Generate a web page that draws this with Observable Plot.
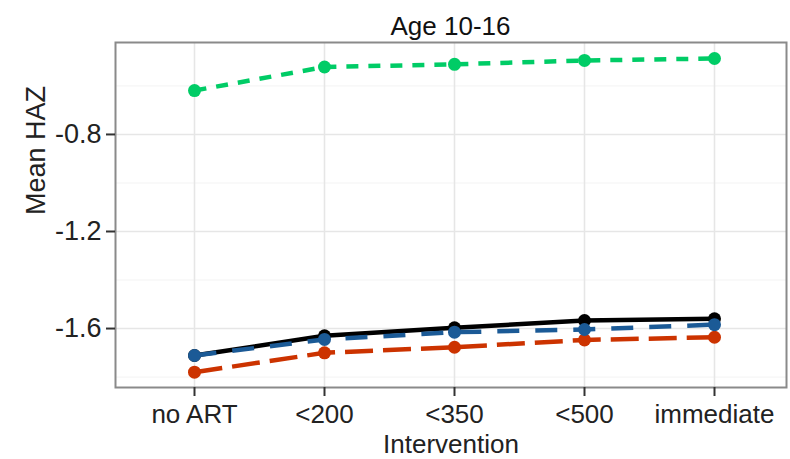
<!DOCTYPE html>
<html>
<head>
<meta charset="utf-8">
<script src="https://cdn.jsdelivr.net/npm/d3@7"></script>
<script src="https://cdn.jsdelivr.net/npm/@observablehq/plot@0.6"></script>
<style>
  html, body { margin: 0; padding: 0; background: #fff; }
  body { width: 790px; height: 459px; overflow: hidden; font-family: "Liberation Sans", Arial, sans-serif; }
  #title { height: 28px; line-height: 28px; padding-top: 12px; padding-left: 115px; padding-right: 4px;
           text-align: center; font-size: 26px; color: #111; white-space: nowrap; }
  svg { display: block; }
</style>
</head>
<body>
<div id="title">Age 10-16</div>
<div id="chart"></div>
<script>
const categories = ["no ART", "<200", "<350", "<500", "immediate"];
const greenVals = [-0.619, -0.522, -0.511, -0.495, -0.487];
const blackVals = [-1.711, -1.630, -1.597, -1.567, -1.560];
const blueVals  = [-1.711, -1.645, -1.615, -1.604, -1.584];
const redVals   = [-1.780, -1.700, -1.677, -1.647, -1.636];
const yTicks = [-0.8, -1.2, -1.6];
const yTickLabels = ["-0.8", "-1.2", "-1.6"];
const yMinor = [-0.6, -1.0, -1.4, -1.8];
const xLabel = "Intervention";
const yLabel = "Mean HAZ";

const toRows = (vals) => categories.map((c, i) => ({cat: c, v: vals[i]}));
const series = [
  {rows: toRows(greenVals), color: "#00CC66", dash: "12,10"},
  {rows: toRows(redVals),   color: "#CC3300", dash: "28,10"},
  {rows: toRows(blackVals), color: "#000000", dash: null},
  {rows: toRows(blueVals),  color: "#1B5A96", dash: "22,16"}
];

const font = "'Liberation Sans', Arial, sans-serif";
const marks = [
  Plot.ruleY(yMinor, {stroke: "#f3f3f3", strokeWidth: 1}),
  Plot.ruleY(yTicks, {stroke: "#e6e6e6", strokeWidth: 1.6}),
  Plot.ruleX(categories, {x: d => d, stroke: "#e6e6e6", strokeWidth: 1.6}),
  Plot.frame({stroke: "#8a8a8a", strokeWidth: 2}),
  Plot.axisY({ticks: yTicks, tickFormat: (d) => yTickLabels[yTicks.indexOf(d)], fontSize: 27,
              tickSize: 9, tickPadding: 5, stroke: "#333", strokeWidth: 2, color: "#222", label: null}),
  Plot.axisX({ticks: categories, fontSize: 26, tickSize: 9, tickPadding: 8, stroke: "#333",
              strokeWidth: 2, color: "#222", label: null}),
  Plot.text([xLabel], {frameAnchor: "bottom", lineAnchor: "top", dy: 47, fontSize: 26, fill: "#222"}),
  Plot.text([yLabel], {frameAnchor: "left", rotate: -90, dx: -79, fontSize: 27, fill: "#222"})
];
for (const s of series) {
  marks.push(Plot.line(s.rows, {x: "cat", y: "v", stroke: s.color, strokeWidth: 4.5,
    strokeDasharray: s.dash || undefined, strokeLinecap: "butt", strokeLinejoin: "round"}));
  marks.push(Plot.dot(s.rows, {x: "cat", y: "v", r: 6.5, fill: s.color, stroke: "none"}));
}

const chart = Plot.plot({
  width: 790,
  height: 419,
  marginLeft: 115,
  marginRight: 4,
  marginTop: 2,
  marginBottom: 72,
  style: {fontFamily: font, background: "#fff"},
  x: {type: "point", domain: categories, range: [193, 715], padding: 0, axis: null},
  y: {domain: [-1.843, -0.421], axis: null},
  marks
});
document.getElementById("chart").appendChild(chart);
</script>
</body>
</html>
